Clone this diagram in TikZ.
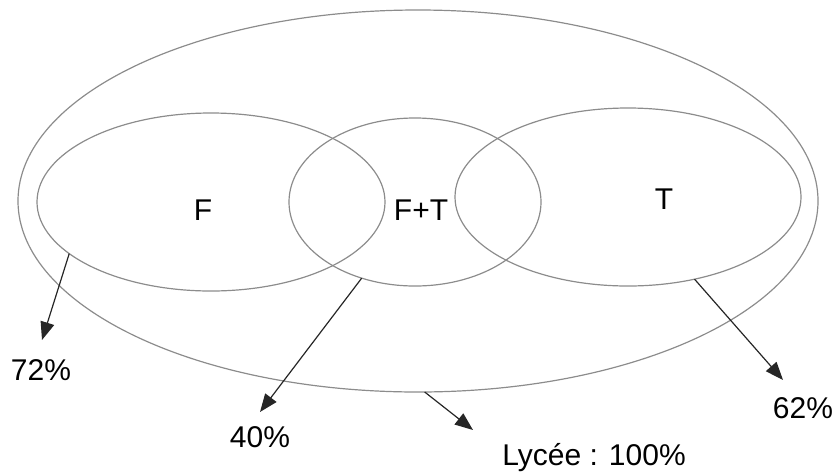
\documentclass[tikz,border=0pt]{standalone}
\usepackage{fontspec}
\setmainfont{Liberation Sans}
\usetikzlibrary{shapes.geometric,arrows.meta}
\begin{document}
\begin{tikzpicture}[x=0.5pt,y=-0.5pt,
  setbox/.style={draw=black!45,line width=0.6pt,ellipse,inner sep=0pt,outer sep=0pt},
  tag/.style={font=\fontsize{15}{18}\selectfont,inner sep=0pt,anchor=base},
  pointer/.style={draw=black!85,line width=0.6pt,-{Triangle[length=9pt,width=7pt]}}]
\useasboundingbox (0,0) rectangle (834,472);
% sets
\node[setbox,minimum width=400pt,minimum height=191pt] (L) at (418,201) {};
\node[setbox,minimum width=174pt,minimum height=89pt] (F) at (211,202) {};
\node[setbox,minimum width=126pt,minimum height=84pt] (FT) at (415,202) {};
\node[setbox,minimum width=173pt,minimum height=89pt] (T) at (628,197) {};
% set names
\node[tag] (nF) at (203,220) {F};
\node[tag] (nFT) at (421,220) {F+T};
\node[tag] (nT) at (664,209) {T};
% percentages
\node[tag] (p72) at (41,380) {72\%};
\node[tag] (p40) at (260,447) {40\%};
\node[tag] (p62) at (803,418) {62\%};
\node[tag] (pL) at (594,465) {Lycée : 100\%};
% arrow ends
\coordinate (a72) at (42,340);
\coordinate (a40) at (260,412);
\coordinate (a62) at (783,380);
\coordinate (aL) at (473,430);
\draw[pointer] (F.200.6) -- (a72);
\draw[pointer] (FT.235) -- (a40);
\draw[pointer] (T.309) -- (a62);
\draw[pointer] (L.272) -- (aL);
\end{tikzpicture}
\end{document}
